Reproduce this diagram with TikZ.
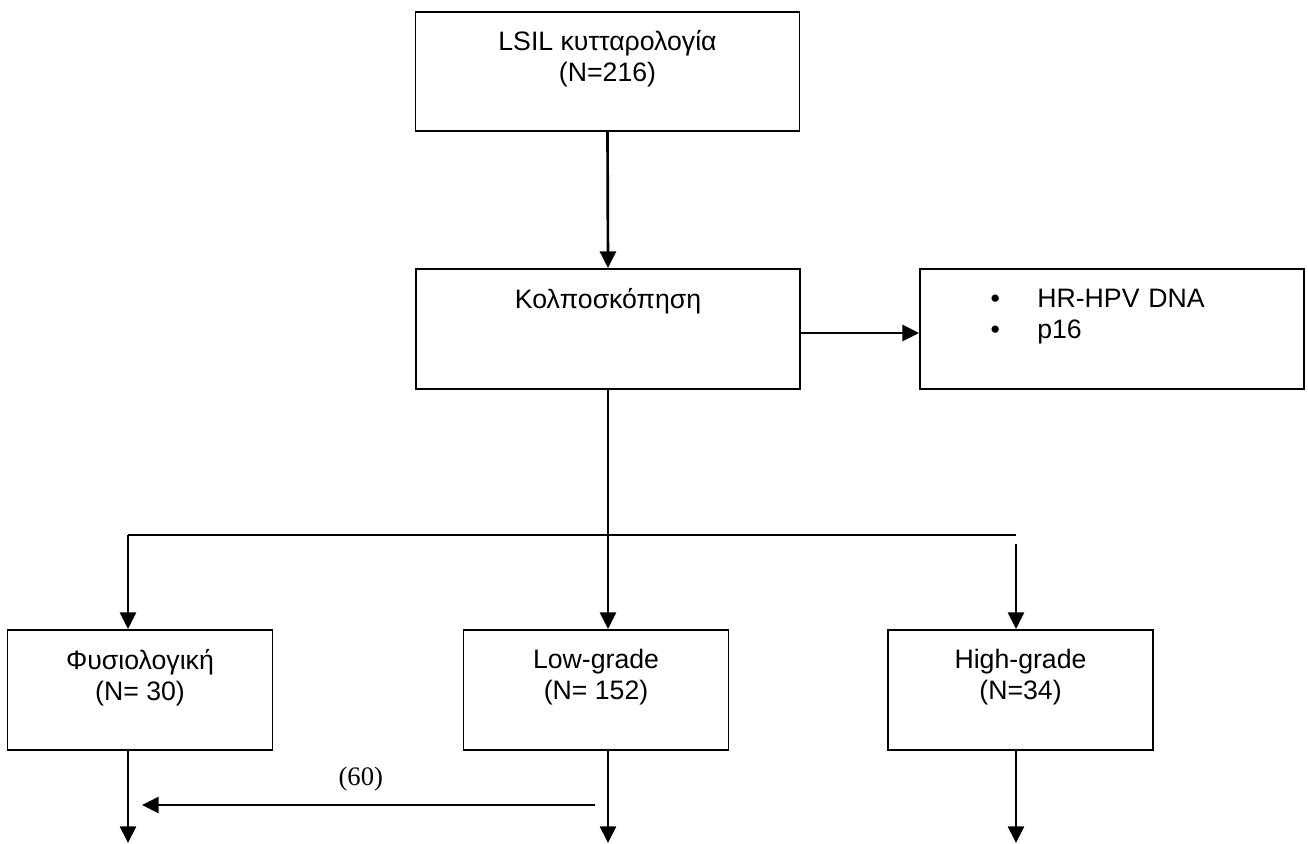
\documentclass[tikz,border=0pt]{standalone}
\usepackage{fontspec}
\setmainfont{Liberation Sans}
\newfontfamily\countfont{Liberation Serif}
\usetikzlibrary{arrows.meta}

\tikzset{
  stagebox/.style={draw, line width=1.4pt, inner sep=0pt, align=center,
    font=\fontsize{20}{23.25}\selectfont},
  widebox/.style={stagebox, minimum width=288pt, minimum height=90pt},
  gradebox/.style={stagebox, minimum width=198.75pt, minimum height=90pt},
  flow/.style={-{Triangle[length=12.5pt,width=12pt]}, line width=2pt},
  branch/.style={line width=1.4pt},
}

\begin{document}
\begin{tikzpicture}[x=0.75pt, y=-0.75pt]
  \useasboundingbox (0,0) rectangle (1308,843);

  % boxes
  \node[widebox, minimum height=89.25pt] (lsil) at (607.5,71.5) {LSIL κυτταρολογία\\(N=216)\\\mbox{}};
  \node[widebox] (colpo) at (608,329) {Κολποσκόπηση\\\mbox{}\\\mbox{}};
  \node[widebox, text width=288pt, align=left] (tests) at (1112,329)
    {\hspace*{53pt}\textbullet\hspace{28pt}HR-HPV DNA\\\hspace*{53pt}\textbullet\hspace{28pt}p16\\\mbox{}};
  \node[gradebox] (normal) at (140,690) {Φυσιολογική\\(N= 30)\\\mbox{}};
  \node[gradebox] (lowgrade) at (596,690) {Low-grade\\(N= 152)\\\mbox{}};
  \node[gradebox] (highgrade) at (1020.5,690) {High-grade\\(N=34)\\\mbox{}};

  % branch points and free ends
  \coordinate (split) at (608,535);
  \coordinate (normalin) at (128,535);
  \coordinate (highin) at (1016,535);
  \coordinate (normalout) at (128,843);
  \coordinate (lowout) at (608,843);
  \coordinate (highout) at (1016,843);
  \coordinate (backfrom) at (595,805);
  \coordinate (backto) at (142,805);

  \draw[flow] (lsil.south) -- (colpo.north);
  \draw[flow] ([yshift=-3pt]colpo.east) -- ([yshift=-3pt]tests.west);

  \draw[line width=0.9pt] (colpo.south) -- (split);
  \draw[branch] (normalin) -- (highin);
  \draw[flow] (normalin) -- (normalin |- normal.north);
  \draw[flow] (split) -- (split |- lowgrade.north);
  \draw[flow] ([yshift=-6.75pt]highin) -- (highin |- highgrade.north);

  \draw[flow] (normalin |- normal.south) -- (normalout);
  \draw[flow] (split |- lowgrade.south) -- (lowout);
  \draw[flow] (highin |- highgrade.south) -- (highout);

  \draw[flow] (backfrom) -- node[pos=0.517, yshift=19.5pt, font=\countfont\fontsize{20}{24}\selectfont] (backcount) {(60)} (backto);
\end{tikzpicture}
\end{document}
